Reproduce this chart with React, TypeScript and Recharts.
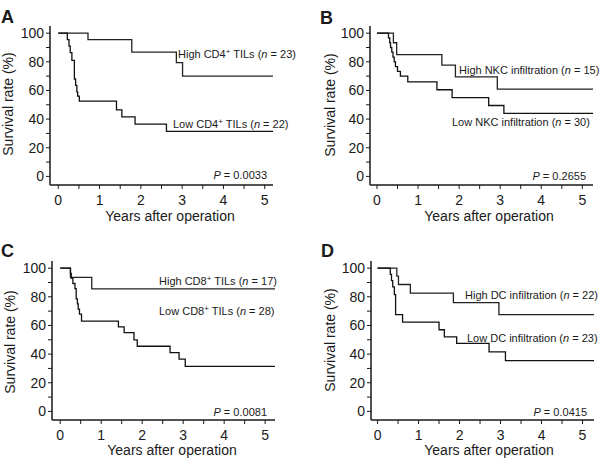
import React from 'react';
import { LineChart, Line, XAxis, YAxis } from 'recharts';

// Kaplan-Meier steps (years, survival %)
const highCD4Time = [0, 0.72, 1.78, 2.86, 3.01, 5.2];
const highCD4Surv = [100, 95.5, 86.7, 79.5, 70, 70];
const lowCD4Time = [0, 0.22, 0.26, 0.29, 0.33, 0.39, 0.42, 0.45, 0.47, 0.51, 1.41, 1.54, 1.86, 2.62, 5.2];
const lowCD4Surv = [100, 95.5, 91, 86.4, 81, 68, 63.5, 59, 56, 52.5, 46.5, 41.5, 36.5, 31.5, 31.5];

const highNKCTime = [0, 0.4, 0.48, 1.58, 1.91, 2.93, 5.26];
const highNKCSurv = [100, 93.3, 85, 77.7, 69.5, 61, 61];
const lowNKCTime = [0, 0.28, 0.31, 0.33, 0.36, 0.39, 0.42, 0.45, 0.5, 0.57, 0.75, 1.46, 1.83, 2.72, 3.09, 5.26];
const lowNKCSurv = [100, 96.7, 93.3, 90, 86.7, 83.3, 80, 76.7, 73.3, 70, 66, 60.5, 55, 49.5, 44, 44];

const highCD8Time = [0, 0.25, 0.77, 5.24];
const highCD8Surv = [100, 93.5, 85.5, 85.5];
const lowCD8Time = [0, 0.25, 0.27, 0.31, 0.36, 0.39, 0.42, 0.44, 0.47, 0.52, 1.42, 1.56, 1.8, 1.88, 2.68, 2.9, 3.05, 5.24];
const lowCD8Surv = [100, 96.4, 92.9, 89.3, 85.7, 78.6, 75, 71.4, 67.9, 63, 59, 55, 50, 45.5, 41, 36.5, 31.5, 31.5];

const highDCTime = [0, 0.47, 0.51, 0.8, 1.85, 2.96, 5.28];
const highDCSurv = [100, 94.5, 88.6, 82.6, 76, 67.5, 67.5];
const lowDCTime = [0, 0.31, 0.34, 0.37, 0.41, 0.44, 0.61, 1.5, 1.63, 1.93, 2.72, 3.12, 5.28];
const lowDCSurv = [100, 95.7, 91.3, 87, 81.5, 67.5, 62.3, 57, 52, 47.5, 41.5, 35.5, 35.5];

const yTicks = [0, 10, 20, 30, 40, 50, 60, 70, 80, 90, 100];
const xTicks = [0, 0.5, 1, 1.5, 2, 2.5, 3, 3.5, 4, 4.5, 5];

const FONT = '"Liberation Sans", Arial, Helvetica, sans-serif';
const INK = '#1a1a1a';

const zip = (t: number[], s: number[]) => t.map((v, i) => ({ t: v, s: s[i] }));

interface PanelProps {
  letter: string;
  high: { t: number; s: number }[];
  low: { t: number; s: number }[];
  xDomain: [number, number];
  plot: { left: number; right: number; top: number; bottom: number };
  letterPos: [number, number];
  yTitle: [number, number];
  xTitle: [number, number];
  highLabel: React.ReactNode;
  highPos: [number, number];
  lowLabel: React.ReactNode;
  lowPos: [number, number];
  pValue: string;
  pPos: [number, number];
}

const Sup = ({ base, rest }: { base: string; rest: string }) => (
  <>
    {base}
    <tspan dy={-4} fontSize={8}>+</tspan>
    <tspan dy={4}>{rest}</tspan>
  </>
);

const NLabel = ({ n }: { n: number }) => (
  <>
    {' ('}
    <tspan fontStyle="italic">n</tspan>
    {` = ${n})`}
  </>
);

const Panel: React.FC<PanelProps> = (p) => {
  const W = 300;
  const H = 230;
  const yAxisW = 40;
  const xAxisH = 30;
  const margin = {
    top: p.plot.top,
    right: W - p.plot.right,
    bottom: H - p.plot.bottom - xAxisH,
    left: p.plot.left - yAxisW,
  };
  const tickStyle = { fontSize: 14, fill: INK, fontFamily: FONT };
  return (
    <div style={{ position: 'relative', width: W, height: H }}>
      <LineChart width={W} height={H} margin={margin}>
        <XAxis
          type="number"
          dataKey="t"
          domain={p.xDomain}
          ticks={xTicks}
          allowDataOverflow
          height={xAxisH}
          tickSize={4}
          tickMargin={6}
          tick={tickStyle}
          tickFormatter={(v: number) => (Number.isInteger(v) ? String(v) : '')}
          axisLine={{ stroke: INK, strokeWidth: 1.5 }}
          tickLine={{ stroke: INK }}
        />
        <YAxis
          type="number"
          dataKey="s"
          domain={[-6, 105]}
          ticks={yTicks}
          allowDataOverflow
          width={yAxisW}
          tickSize={4}
          tickMargin={2}
          tick={tickStyle}
          tickFormatter={(v: number) => (v % 20 === 0 ? String(v) : '')}
          axisLine={{ stroke: INK, strokeWidth: 1.5 }}
          tickLine={{ stroke: INK }}
        />
        <Line data={p.high} dataKey="s" type="stepAfter" stroke="#222" strokeWidth={1.3} dot={false} isAnimationActive={false} />
        <Line data={p.low} dataKey="s" type="stepAfter" stroke="#111" strokeWidth={1.3} dot={false} isAnimationActive={false} />
      </LineChart>
      <svg
        width={W}
        height={H}
        style={{ position: 'absolute', left: 0, top: 0, pointerEvents: 'none' }}
        fontFamily={FONT}
        fill={INK}
      >
        <text x={p.letterPos[0]} y={p.letterPos[1]} fontSize={18} fontWeight="bold">{p.letter}</text>
        <text
          x={p.yTitle[0]}
          y={p.yTitle[1]}
          fontSize={14}
          textAnchor="middle"
          transform={`rotate(-90 ${p.yTitle[0]} ${p.yTitle[1]})`}
        >
          Survival rate (%)
        </text>
        <text x={p.xTitle[0]} y={p.xTitle[1]} fontSize={14} textAnchor="middle">Years after operation</text>
        <text x={p.highPos[0]} y={p.highPos[1]} fontSize={11}>{p.highLabel}</text>
        <text x={p.lowPos[0]} y={p.lowPos[1]} fontSize={11}>{p.lowLabel}</text>
        <text x={p.pPos[0]} y={p.pPos[1]} fontSize={11} textAnchor="end">
          <tspan fontStyle="italic">P</tspan>
          {` = ${p.pValue}`}
        </text>
      </svg>
    </div>
  );
};

export default function App() {
  return (
    <div style={{ position: 'absolute', left: 0, top: 0, width: 600, height: 459, background: '#fff' }}>
      <div style={{ position: 'absolute', left: 0, top: 0 }}>
        <Panel
          letter="A"
          high={zip(highCD4Time, highCD4Surv)}
          low={zip(lowCD4Time, lowCD4Surv)}
          xDomain={[-0.2, 5.2]}
          plot={{ left: 50, right: 273, top: 26, bottom: 185 }}
          letterPos={[1, 23]}
          yTitle={[13, 104]}
          xTitle={[170, 221]}
          highLabel={<><Sup base="High CD4" rest=" TILs" /><NLabel n={23} /></>}
          highPos={[178, 58]}
          lowLabel={<><Sup base="Low CD4" rest=" TILs" /><NLabel n={22} /></>}
          lowPos={[173, 128]}
          pValue="0.0033"
          pPos={[267, 179]}
        />
      </div>
      <div style={{ position: 'absolute', left: 300, top: 0 }}>
        <Panel
          letter="B"
          high={zip(highNKCTime, highNKCSurv)}
          low={zip(lowNKCTime, lowNKCSurv)}
          xDomain={[-0.17, 5.26]}
          plot={{ left: 70, right: 293, top: 26, bottom: 185 }}
          letterPos={[20, 24]}
          yTitle={[35, 105]}
          xTitle={[189, 221]}
          highLabel={<>High NKC infiltration<NLabel n={15} /></>}
          highPos={[159, 74]}
          lowLabel={<>Low NKC infiltration<NLabel n={30} /></>}
          lowPos={[152, 126]}
          pValue="0.2655"
          pPos={[286, 180]}
        />
      </div>
      <div style={{ position: 'absolute', left: 0, top: 229 }}>
        <Panel
          letter="C"
          high={zip(highCD8Time, highCD8Surv)}
          low={zip(lowCD8Time, lowCD8Surv)}
          xDomain={[-0.2, 5.24]}
          plot={{ left: 52, right: 275, top: 32, bottom: 191 }}
          letterPos={[1, 28]}
          yTitle={[15, 113]}
          xTitle={[172, 226]}
          highLabel={<><Sup base="High CD8" rest=" TILs" /><NLabel n={17} /></>}
          highPos={[159, 56]}
          lowLabel={<><Sup base="Low CD8" rest=" TILs" /><NLabel n={28} /></>}
          lowPos={[159, 86]}
          pValue="0.0081"
          pPos={[267, 187]}
        />
      </div>
      <div style={{ position: 'absolute', left: 300, top: 229 }}>
        <Panel
          letter="D"
          high={zip(highDCTime, highDCSurv)}
          low={zip(lowDCTime, lowDCSurv)}
          xDomain={[-0.16, 5.28]}
          plot={{ left: 71, right: 294, top: 32, bottom: 191 }}
          letterPos={[21, 28]}
          yTitle={[35, 111]}
          xTitle={[189, 226]}
          highLabel={<>High DC infiltration<NLabel n={22} /></>}
          highPos={[165, 70]}
          lowLabel={<>Low DC infiltration<NLabel n={23} /></>}
          lowPos={[167, 113]}
          pValue="0.0415"
          pPos={[287, 187]}
        />
      </div>
    </div>
  );
}
